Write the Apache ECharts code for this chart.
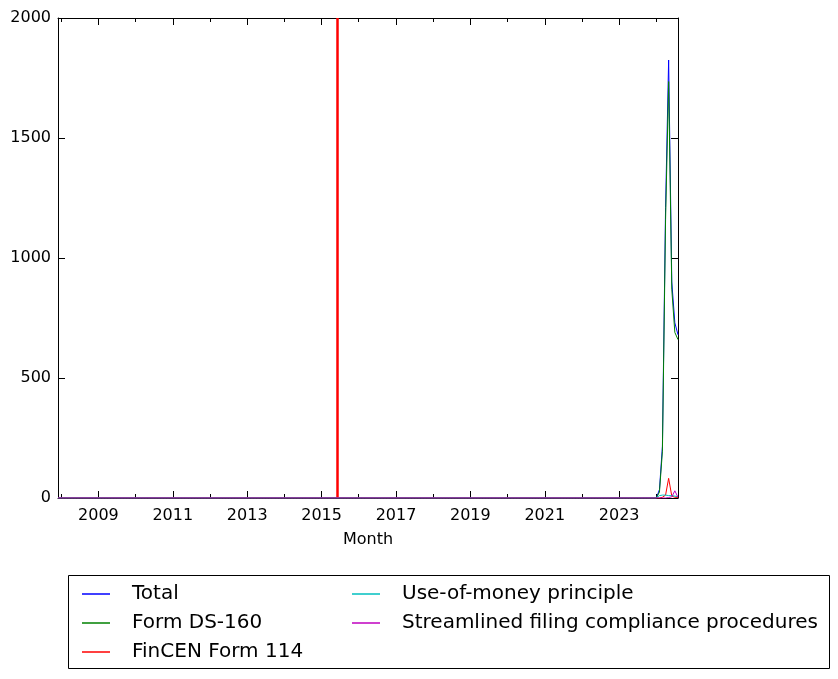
<!DOCTYPE html>
<html><head><meta charset="utf-8">
<script src="https://cdn.jsdelivr.net/npm/echarts@6/dist/echarts.min.js"></script>
<style>html,body{margin:0;padding:0;background:#fff}#c{width:838px;height:679px}</style>
</head><body><div id="c"></div>
<script>
// First month of data: Dec 2007, last: Aug 2024 (monthly)
const firstMonth = [2007, 12];
const lastMonth = [2024, 8];
const seriesNames = ['Total', 'Form DS-160', 'FinCEN Form 114', 'Use-of-money principle', 'Streamlined filing compliance procedures'];
const seriesColors = ['#0000ff', '#008000', '#ff0000', '#00bfbf', '#bf00bf'];

const total = [0,
 0,0,0,0,0,0,0,0,0,0,0,0,
 0,0,0,0,0,0,0,0,0,0,0,0,
 0,0,0,0,0,0,0,0,0,0,0,0,
 0,0,0,0,0,0,0,0,0,0,0,0,
 0,0,0,0,0,0,0,0,0,0,0,0,
 0,0,0,0,0,0,0,0,0,0,0,0,
 0,0,0,0,0,0,0,0,0,0,0,0,
 0,0,0,0,0,0,0,0,0,0,0,0,
 0,0,0,0,0,0,0,0,0,0,0,0,
 0,0,0,0,0,0,0,0,0,0,0,0,
 0,0,0,0,0,0,0,0,0,0,0,0,
 0,0,0,0,0,0,0,0,0,0,0,0,
 0,0,0,0,0,0,0,0,0,0,0,0,
 0,0,0,0,0,0,0,0,0,0,0,0,
 0,0,0,0,0,0,0,0,0,0,0,0,
 0,0,0,0,0,0,0,0,0,0,0,0,
 0,35,215,1210,1825,900,730,680];
const formDS160 = [0,
 0,0,0,0,0,0,0,0,0,0,0,0,
 0,0,0,0,0,0,0,0,0,0,0,0,
 0,0,0,0,0,0,0,0,0,0,0,0,
 0,0,0,0,0,0,0,0,0,0,0,0,
 0,0,0,0,0,0,0,0,0,0,0,0,
 0,0,0,0,0,0,0,0,0,0,0,0,
 0,0,0,0,0,0,0,0,0,0,0,0,
 0,0,0,0,0,0,0,0,0,0,0,0,
 0,0,0,0,0,0,0,0,0,0,0,0,
 0,0,0,0,0,0,0,0,0,0,0,0,
 0,0,0,0,0,0,0,0,0,0,0,0,
 0,0,0,0,0,0,0,0,0,0,0,0,
 0,0,0,0,0,0,0,0,0,0,0,0,
 0,0,0,0,0,0,0,0,0,0,0,0,
 0,0,0,0,0,0,0,0,0,0,0,0,
 0,0,0,0,0,0,0,0,0,0,0,0,
 0,25,195,1160,1735,870,690,660];
const fincen114 = [0,
 0,0,0,0,0,0,0,0,0,0,0,0,
 0,0,0,0,0,0,0,0,0,0,0,0,
 0,0,0,0,0,0,0,0,0,0,0,0,
 0,0,0,0,0,0,0,0,0,0,0,0,
 0,0,0,0,0,0,0,0,0,0,0,0,
 0,0,0,0,0,0,0,0,0,0,0,0,
 0,0,0,0,0,0,0,0,0,0,0,0,
 0,0,0,0,0,0,0,0,0,0,0,0,
 0,0,0,0,0,0,0,0,0,0,0,0,
 0,0,0,0,0,0,0,0,0,0,0,0,
 0,0,0,0,0,0,0,0,0,0,0,0,
 0,0,0,0,0,0,0,0,0,0,0,0,
 0,0,0,0,0,0,0,0,0,0,0,0,
 0,0,0,0,0,0,0,0,0,0,0,0,
 0,0,0,0,0,0,0,0,0,0,0,0,
 0,0,0,0,0,0,0,0,0,0,0,0,
 0,0,3,12,82,8,3,2];
const useOfMoney = [0,
 0,0,0,0,0,0,0,0,0,0,0,0,
 0,0,0,0,0,0,0,0,0,0,0,0,
 0,0,0,0,0,0,0,0,0,0,0,0,
 0,0,0,0,0,0,0,0,0,0,0,0,
 0,0,0,0,0,0,0,0,0,0,0,0,
 0,0,0,0,0,0,0,0,0,0,0,0,
 0,0,0,0,0,0,0,0,0,0,0,0,
 0,0,0,0,0,0,0,0,0,0,0,0,
 0,0,0,0,0,0,0,0,0,0,0,0,
 0,0,0,0,0,0,0,0,0,0,0,0,
 0,0,0,0,0,0,0,0,0,0,0,0,
 0,0,0,0,0,0,0,0,0,0,0,0,
 0,0,0,0,0,0,0,0,0,0,0,0,
 0,0,0,0,0,0,0,0,0,0,0,0,
 0,0,0,0,0,0,0,0,0,0,0,0,
 0,0,0,0,0,0,0,0,0,0,0,0,
 0,10,12,12,10,10,8,5];
const streamlined = [0,
 0,0,0,0,0,0,0,0,0,0,0,0,
 0,0,0,0,0,0,0,0,0,0,0,0,
 0,0,0,0,0,0,0,0,0,0,0,0,
 0,0,0,0,0,0,0,0,0,0,0,0,
 0,0,0,0,0,0,0,0,0,0,0,0,
 0,0,0,0,0,0,0,0,0,0,0,0,
 0,0,0,0,0,0,0,0,0,0,0,0,
 0,0,0,0,0,0,0,0,0,0,0,0,
 0,0,0,0,0,0,0,0,0,0,0,0,
 0,0,0,0,0,0,0,0,0,0,0,0,
 0,0,0,0,0,0,0,0,0,0,0,0,
 0,0,0,0,0,0,0,0,0,0,0,0,
 0,0,0,0,0,0,0,0,0,0,0,0,
 0,0,0,0,0,0,0,0,0,0,0,0,
 0,0,0,0,0,0,0,0,0,0,0,0,
 0,0,0,0,0,0,0,0,0,0,0,0,
 0,0,0,0,2,5,30,3];

const eventMonth = [2015, 6];
const xLabelYears = [2009, 2011, 2013, 2015, 2017, 2019, 2021, 2023];
const xMinorYears = [2008, 2010, 2012, 2014, 2016, 2018, 2020, 2022, 2024];

const allValues = [total, formDS160, fincen114, useOfMoney, streamlined];

// build month timestamps (ms) used as x coordinates on a numeric axis
const months = [];
for (let i = 0; i < total.length; i++) {
  months.push(new Date(firstMonth[0], firstMonth[1] - 1 + i, 1).getTime());
}
const ts = y => new Date(y, 0, 1).getTime();
const xMin = months[0], xMax = months[months.length - 1];
const FONT = 'DejaVu Sans';

const xBase = {
  type: 'value', min: xMin, max: xMax, gridIndex: 0, scale: true,
  splitLine: { show: false }, axisPointer: { show: false }
};
const xAxes = [
  Object.assign({}, xBase, {
    position: 'bottom',
    axisLine: { show: true, onZero: false, lineStyle: { color: '#000', width: 1 } },
    axisTick: { show: true, inside: true, length: 7, lineStyle: { color: '#000' }, customValues: xLabelYears.map(ts) },
    axisLabel: { show: true, customValues: xLabelYears.map(ts), formatter: v => String(new Date(v).getFullYear()),
      color: '#000', fontSize: 16, fontFamily: FONT, margin: 10 },
    name: 'Month', nameLocation: 'middle', nameGap: 34,
    nameTextStyle: { color: '#000', fontSize: 16, fontFamily: FONT }
  }),
  Object.assign({}, xBase, {
    position: 'bottom',
    axisLine: { show: false, onZero: false },
    axisTick: { show: true, inside: true, length: 4, lineStyle: { color: '#000' }, customValues: xMinorYears.map(ts) },
    axisLabel: { show: false }
  }),
  Object.assign({}, xBase, {
    position: 'top',
    axisLine: { show: true, onZero: false, lineStyle: { color: '#000', width: 1 } },
    axisTick: { show: true, inside: true, length: 7, lineStyle: { color: '#000' }, customValues: xLabelYears.map(ts) },
    axisLabel: { show: false }
  }),
  Object.assign({}, xBase, {
    position: 'top',
    axisLine: { show: false, onZero: false },
    axisTick: { show: true, inside: true, length: 4, lineStyle: { color: '#000' }, customValues: xMinorYears.map(ts) },
    axisLabel: { show: false }
  })
];

const yBase = { type: 'value', min: 0, max: 2000, interval: 500, splitLine: { show: false } };
const yAxes = [
  Object.assign({}, yBase, {
    position: 'left',
    axisLine: { show: true, onZero: false, lineStyle: { color: '#000' } },
    axisTick: { show: true, inside: true, length: 7, lineStyle: { color: '#000' } },
    axisLabel: { color: '#000', fontSize: 16, fontFamily: FONT, margin: 7, formatter: v => String(v) }
  }),
  Object.assign({}, yBase, {
    position: 'right',
    axisLine: { show: true, onZero: false, lineStyle: { color: '#000' } },
    axisTick: { show: true, inside: true, length: 7, lineStyle: { color: '#000' } },
    axisLabel: { show: false }
  })
];

const series = seriesNames.map((name, k) => ({
  name, type: 'line', xAxisIndex: 0, yAxisIndex: 0,
  data: months.map((t, i) => [t, allValues[k][i]]),
  symbol: 'none', showSymbol: false,
  lineStyle: { color: seriesColors[k], width: 1 },
  itemStyle: { color: seriesColors[k] },
  animation: false, z: 3 + k
}));
series[2].markLine = {
  silent: true, symbol: 'none', animation: false,
  label: { show: false },
  lineStyle: { color: '#ff0000', width: 2.5, type: 'solid' },
  data: [{ xAxis: new Date(eventMonth[0], eventMonth[1] - 1, 1).getTime() }]
};

const legendCommon = {
  orient: 'vertical', padding: 0, icon: 'rect', itemWidth: 28, itemHeight: 1.5, itemGap: 7,
  textStyle: { color: '#000', fontSize: 20, lineHeight: 22, fontFamily: FONT, padding: [0, 0, 0, 17] },
  selectedMode: false
};

const chart = echarts.init(document.getElementById('c'), null, { renderer: 'canvas' });
chart.setOption({
  backgroundColor: '#fff',
  animation: false,
  grid: { left: 58, top: 18, right: 160, bottom: 181, containLabel: false },
  xAxis: xAxes,
  yAxis: yAxes,
  graphic: [{ type: 'rect', shape: { x: 68.5, y: 575.5, width: 761, height: 93 },
    style: { fill: '#fff', stroke: '#000', lineWidth: 1 }, z: -1 }],
  legend: [
    Object.assign({}, legendCommon, { left: 82, top: 583, data: seriesNames.slice(0, 3) }),
    Object.assign({}, legendCommon, { left: 352, top: 583, data: seriesNames.slice(3) })
  ],
  series
});
</script>
</body></html>
